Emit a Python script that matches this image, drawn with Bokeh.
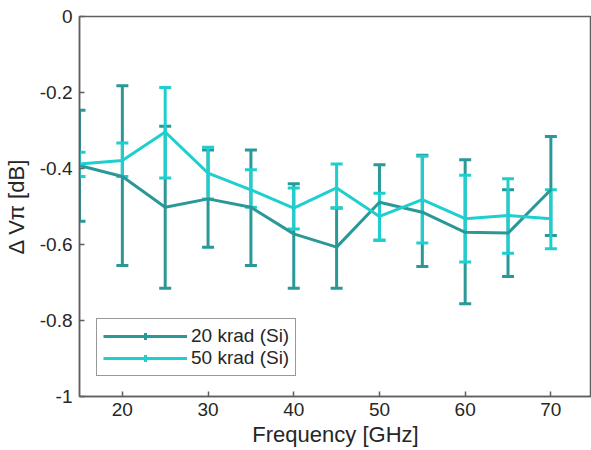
from bokeh.plotting import figure
from bokeh.models import (ColumnDataSource, Whisker, TeeHead, Legend, LegendItem,
                          FixedTicker, Range1d)
from bokeh.embed import file_html
from bokeh.resources import INLINE

freq = [15, 20, 25, 30, 35, 40, 45, 50, 55, 60, 65, 70]

k20_mean = [-0.392, -0.421, -0.502, -0.480, -0.502, -0.572, -0.607, -0.489, -0.515, -0.568, -0.570, -0.456]
k20_upper = [-0.247, -0.182, -0.289, -0.351, -0.351, -0.440, -0.504, -0.390, -0.365, -0.377, -0.456, -0.316]
k20_lower = [-0.539, -0.655, -0.715, -0.607, -0.655, -0.715, -0.715, -0.589, -0.658, -0.756, -0.684, -0.576]

k50_mean = [-0.388, -0.379, -0.304, -0.412, -0.456, -0.504, -0.451, -0.526, -0.482, -0.532, -0.524, -0.532]
k50_upper = [-0.357, -0.333, -0.187, -0.344, -0.403, -0.451, -0.388, -0.465, -0.368, -0.418, -0.427, -0.456]
k50_lower = [-0.421, -0.421, -0.425, -0.480, -0.502, -0.559, -0.504, -0.589, -0.596, -0.646, -0.623, -0.611]

series_labels = ["20 krad (Si)", "50 krad (Si)"]
series_colors = ["#2b9898", "#1fcfcf"]

x_ticks = [20, 30, 40, 50, 60, 70]
y_ticks = [0, -0.2, -0.4, -0.6, -0.8, -1]
y_tick_labels = ["0", "-0.2", "-0.4", "-0.6", "-0.8", "-1"]

FONT = "Liberation Sans"
AXIS_COLOR = "#5f5f5f"
TEXT_COLOR = "#262626"

p = figure(width=591, height=450, output_backend="svg", toolbar_location=None,
           x_range=Range1d(15, 74.74), y_range=Range1d(-1, 0),
           min_border_left=76, min_border_top=16, min_border_right=0, min_border_bottom=54)
p.grid.visible = False
p.outline_line_color = AXIS_COLOR
p.outline_line_width = 1.5
p.background_fill_color = "white"
p.border_fill_color = "white"

p.xaxis.ticker = FixedTicker(ticks=x_ticks)
p.yaxis.ticker = FixedTicker(ticks=y_ticks)
p.yaxis.major_label_overrides = {t: l for t, l in zip(y_ticks, y_tick_labels)}
p.xaxis.axis_label = "Frequency [GHz]"
p.yaxis.axis_label = "\u0394 V\u03c0 [dB]"
for ax in (p.xaxis[0], p.yaxis[0]):
    ax.axis_line_color = AXIS_COLOR
    ax.axis_line_width = 1.5
    ax.major_tick_line_color = AXIS_COLOR
    ax.major_tick_line_width = 1.5
    ax.major_tick_in = 5
    ax.major_tick_out = 0
    ax.minor_tick_line_color = None
    ax.major_label_text_font = FONT
    ax.major_label_text_font_size = "19px"
    ax.major_label_text_color = TEXT_COLOR
    ax.axis_label_text_font = FONT
    ax.axis_label_text_font_size = "22px"
    ax.axis_label_text_font_style = "normal"
    ax.axis_label_text_color = TEXT_COLOR
p.xaxis.major_label_standoff = 6
p.yaxis.major_label_standoff = 7
p.xaxis.axis_label_standoff = 3
p.yaxis.axis_label_standoff = 8

means = [k20_mean, k50_mean]
uppers = [k20_upper, k50_upper]
lowers = [k20_lower, k50_lower]

items = []
for lab, col, m, u, lo in zip(series_labels, series_colors, means, uppers, lowers):
    src = ColumnDataSource(dict(x=freq, y=m, upper=u, lower=lo))
    w = Whisker(source=src, base="x", upper="upper", lower="lower",
                line_color=col, line_width=3,
                upper_head=TeeHead(size=12, line_color=col, line_width=3),
                lower_head=TeeHead(size=12, line_color=col, line_width=3))
    p.add_layout(w)
    r = p.line("x", "y", source=src, line_color=col, line_width=3)
    mk = p.scatter("x", "y", source=src, marker="cross", size=1,
                   line_color=col, line_width=3)
    items.append(LegendItem(label=lab, renderers=[r, mk]))

legend = Legend(items=items, location=(17, 20), glyph_width=84, glyph_height=18,
                label_text_font=FONT, label_text_font_size="19px",
                label_text_color=TEXT_COLOR, border_line_color="#333333",
                border_line_width=1, padding=6, spacing=0, margin=0,
                label_standoff=4, label_height=18)
p.add_layout(legend, "center")

out = file_html(p, INLINE)
open("out.html", "w").write(out)
